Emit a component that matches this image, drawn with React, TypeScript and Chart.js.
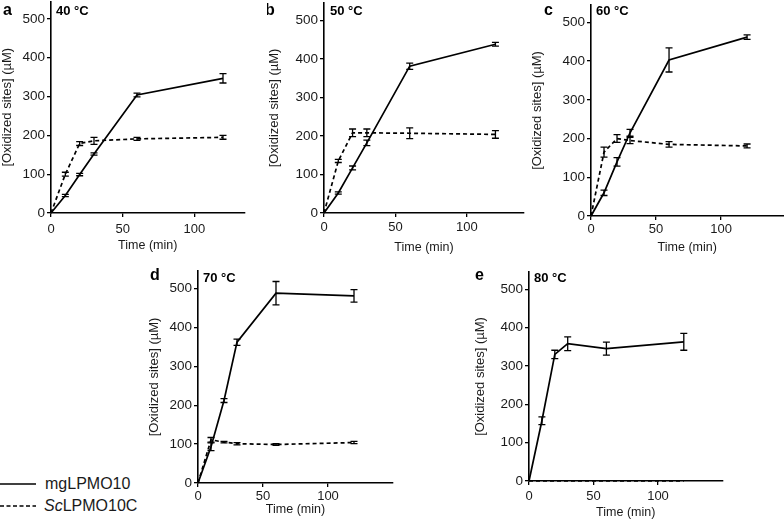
import React, { useEffect, useRef } from "react";
import { Chart, registerables } from "chart.js";

Chart.register(...registerables);

// ---------- data ----------
const times = [0, 10, 20, 30, 60, 120];

const mg40 = [0, 45, 99, 152, 304, 347];
const mg40Err = [0, 3, 3, 3, 5, 12];
const sc40 = [0, 100, 179, 186, 191, 195];
const sc40Err = [0, 5, 5, 9, 4, 5];

const mg50 = [0, 52, 117, 182, 381, 438];
const mg50Err = [0, 3, 5, 7, 8, 5];
const sc50 = [0, 135, 208, 208, 207, 204];
const sc50Err = [0, 4, 10, 10, 14, 10];

const mg60 = [0, 60, 140, 215, 403, 462];
const mg60Err = [0, 7, 11, 9, 31, 6];
const sc60 = [0, 165, 200, 195, 185, 181];
const sc60Err = [0, 13, 10, 8, 7, 5];

const mg70 = [0, 93, 212, 362, 488, 481];
const mg70Err = [0, 10, 5, 8, 30, 16];
const sc70 = [0, 111, 105, 101, 99, 104];
const sc70Err = [0, 6, 2, 3, 2, 3];

const mg80 = [0, 157, 330, 358, 345, 363];
const mg80Err = [0, 10, 11, 18, 17, 22];
const sc80 = [0, 0, 0, 0, 0, 0];
const sc80Err = [0, 0, 0, 0, 0, 0];

const yTicks = [0, 100, 200, 300, 400, 500];
const xTicks = [0, 50, 100];
const yMax = 545;
const yTitle = "[Oxidized sites] (µM)";
const xTitle = "Time (min)";
const seriesNames = ["mgLPMO10", "ScLPMO10C"];
const panelLetters = ["a", "b", "c", "d", "e"];
const temperatures = ["40 °C", "50 °C", "60 °C", "70 °C", "80 °C"];
const xMaxes = [135, 140, 148, 150, 150];

const mgSeries = [mg40, mg50, mg60, mg70, mg80];
const mgErrors = [mg40Err, mg50Err, mg60Err, mg70Err, mg80Err];
const scSeries = [sc40, sc50, sc60, sc70, sc80];
const scErrors = [sc40Err, sc50Err, sc60Err, sc70Err, sc80Err];

// ---------- layout (page px) ----------
const layouts = [
  { L: 51, T: 1.5, R: 244.5, B: 213, yW: 51, xH: 40, xPad: 5, lx: 3, ly: 15, tx: 56, ty: 15 },
  { L: 324, T: 3, R: 524, B: 213, yW: 57, xH: 42, xPad: 3, lx: 265, ly: 15, tx: 330, ty: 15 },
  { L: 591, T: 5, R: 783.5, B: 216, yW: 61, xH: 39, xPad: 2, lx: 544, ly: 15, tx: 596, ty: 15 },
  { L: 198, T: 271, R: 393, B: 483, yW: 51, xH: 34, xPad: 2, lx: 150, ly: 280, tx: 203, ty: 282 },
  { L: 529, T: 272, R: 722.5, B: 481, yW: 56, xH: 39, xPad: 4, lx: 475, ly: 280, tx: 534, ty: 282 },
];

const FONT = "'Liberation Sans', Arial, Helvetica, sans-serif";
const TEXT = "#1a1a1a";

const errorBarPlugin = {
  id: "errorBars",
  afterDatasetsDraw(chart: any) {
    const { ctx } = chart;
    const xs = chart.scales.x;
    const ys = chart.scales.y;
    chart.data.datasets.forEach((ds: any) => {
      const errs: number[] = ds.errors || [];
      ds.data.forEach((pt: any, i: number) => {
        const e = errs[i];
        if (!e) return;
        const px = xs.getPixelForValue(pt.x);
        const top = ys.getPixelForValue(pt.y + e);
        const bot = ys.getPixelForValue(pt.y - e);
        ctx.save();
        ctx.strokeStyle = "#000";
        ctx.lineWidth = 1.3;
        ctx.setLineDash([]);
        ctx.beginPath();
        ctx.moveTo(px, top);
        ctx.lineTo(px, bot);
        ctx.moveTo(px - 3.5, top);
        ctx.lineTo(px + 3.5, top);
        ctx.moveTo(px - 3.5, bot);
        ctx.lineTo(px + 3.5, bot);
        ctx.stroke();
        ctx.restore();
      });
    });
  },
};

function Panel({ idx }: { idx: number }) {
  const ref = useRef<HTMLCanvasElement | null>(null);
  const g = layouts[idx];
  const canvasLeft = g.L - g.yW;
  const canvasTop = Math.floor(g.T - 12);
  const padT = g.T - canvasTop;
  const w = Math.ceil(g.yW + (g.R - g.L) + 4);
  const padR = w - g.yW - (g.R - g.L);
  const h = Math.ceil(padT + (g.B - g.T) + g.xH);
  const padB = h - padT - (g.B - g.T) - g.xH;

  useEffect(() => {
    const canvas = ref.current;
    if (!canvas) return;
    const labelPlugin = {
      id: "panelLabels",
      afterDraw(chart: any) {
        const ctx = chart.ctx;
        ctx.save();
        ctx.fillStyle = "#000";
        ctx.textBaseline = "alphabetic";
        ctx.textAlign = "left";
        ctx.font = `bold 16px ${FONT}`;
        ctx.fillText(panelLetters[idx], g.lx - canvasLeft, g.ly - canvasTop);
        ctx.font = `bold 13px ${FONT}`;
        ctx.fillText(temperatures[idx], g.tx - canvasLeft, g.ty - canvasTop);
        ctx.restore();
      },
    };
    const mk = (arr: number[]) => times.map((t, i) => ({ x: t, y: arr[i] }));
    const chart = new Chart(canvas, {
      type: "line",
      data: {
        datasets: [
          {
            label: seriesNames[0],
            data: mk(mgSeries[idx]),
            errors: mgErrors[idx],
            borderColor: "#000",
            borderWidth: 1.7,
            pointRadius: 0,
            tension: 0,
            clip: false,
          } as any,
          {
            label: seriesNames[1],
            data: mk(scSeries[idx]),
            errors: scErrors[idx],
            borderColor: "#000",
            borderWidth: 1.7,
            borderDash: [4, 3],
            pointRadius: 0,
            tension: 0,
            clip: false,
          } as any,
        ],
      },
      options: {
        responsive: false,
        animation: false,
        events: [],
        layout: { padding: { top: padT, right: padR, bottom: padB, left: 0 } },
        plugins: { legend: { display: false }, tooltip: { enabled: false } },
        scales: {
          x: {
            type: "linear",
            min: 0,
            max: xMaxes[idx],
            afterBuildTicks: (s: any) => {
              s.ticks = xTicks.map((v) => ({ value: v }));
            },
            afterFit: (s: any) => {
              s.height = g.xH;
            },
            grid: { drawOnChartArea: false, drawTicks: true, tickLength: 4, color: "#000", lineWidth: 1.3 },
            border: { color: "#000", width: 1.6 },
            ticks: { color: TEXT, font: { size: 13, family: FONT }, padding: g.xPad, maxRotation: 0 },
            title: { display: true, text: xTitle, color: TEXT, font: { size: 12.5, family: FONT }, padding: 0 },
          },
          y: {
            type: "linear",
            min: 0,
            max: yMax,
            afterBuildTicks: (s: any) => {
              s.ticks = yTicks.map((v) => ({ value: v }));
            },
            afterFit: (s: any) => {
              s.width = g.yW;
            },
            grid: { drawOnChartArea: false, drawTicks: true, tickLength: 4, color: "#000", lineWidth: 1.3 },
            border: { color: "#000", width: 1.6 },
            ticks: { color: TEXT, font: { size: 13.5, family: FONT }, padding: 2 },
            title: { display: true, text: yTitle, color: TEXT, font: { size: 13, family: FONT }, padding: 0 },
          },
        },
      } as any,
      plugins: [errorBarPlugin, labelPlugin],
    });
    return () => chart.destroy();
  }, []);

  return (
    <canvas
      ref={ref}
      width={w}
      height={h}
      style={{ position: "absolute", left: canvasLeft, top: canvasTop, width: w, height: h }}
    />
  );
}

export default function App() {
  return (
    <div
      style={{
        position: "absolute",
        left: 0,
        top: 0,
        width: 784,
        height: 521,
        overflow: "hidden",
        background: "#fff",
        fontFamily: FONT,
      }}
    >
      {layouts.map((_, i) => (
        <Panel key={i} idx={i} />
      ))}
      <svg style={{ position: "absolute", left: 0, top: 470 }} width={40} height={45}>
        <line x1={0} y1={14} x2={36} y2={14} stroke="#000" strokeWidth={1.5} />
        <line x1={0} y1={36} x2={36} y2={36} stroke="#000" strokeWidth={1.5} strokeDasharray="4 2.5" />
      </svg>
      <div style={{ position: "absolute", left: 45, top: 475, fontSize: 16, lineHeight: "18px", color: TEXT, whiteSpace: "nowrap" }}>
        {seriesNames[0]}
      </div>
      <div style={{ position: "absolute", left: 44, top: 497, fontSize: 16, lineHeight: "18px", color: TEXT, whiteSpace: "nowrap" }}>
        <i>{seriesNames[1].slice(0, 2)}</i>
        {seriesNames[1].slice(2)}
      </div>
    </div>
  );
}
